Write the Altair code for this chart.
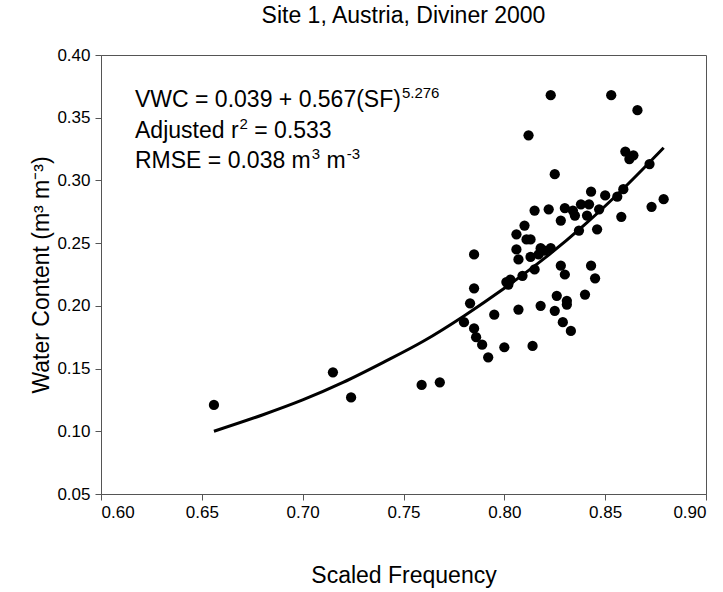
import altair as alt
import pandas as pd

# ---------------- data ----------------
sf = [0.656, 0.715, 0.724, 0.759, 0.768, 0.780, 0.783, 0.785, 0.785, 0.785,
      0.786, 0.789, 0.792, 0.795, 0.800, 0.801, 0.802, 0.803, 0.806, 0.806,
      0.807, 0.807, 0.809, 0.810, 0.811, 0.812, 0.813, 0.813, 0.814, 0.815,
      0.815, 0.817, 0.818, 0.818, 0.820, 0.822, 0.823, 0.823, 0.825, 0.825,
      0.826, 0.828, 0.828, 0.829, 0.830, 0.830, 0.831, 0.831, 0.833, 0.834,
      0.835, 0.837, 0.838, 0.840, 0.841, 0.842, 0.843, 0.843, 0.845, 0.846,
      0.847, 0.850, 0.853, 0.856, 0.858, 0.859, 0.860, 0.862, 0.864, 0.866,
      0.872, 0.873, 0.879]
vwc = [0.121, 0.147, 0.127, 0.137, 0.139, 0.187, 0.202, 0.214, 0.241, 0.182,
       0.175, 0.169, 0.159, 0.193, 0.167, 0.219, 0.217, 0.221, 0.257, 0.245,
       0.237, 0.197, 0.224, 0.264, 0.253, 0.336, 0.253, 0.239, 0.168, 0.276,
       0.229, 0.241, 0.246, 0.200, 0.244, 0.277, 0.368, 0.246, 0.305, 0.196,
       0.208, 0.268, 0.232, 0.187, 0.278, 0.225, 0.204, 0.201, 0.180, 0.276,
       0.272, 0.260, 0.281, 0.209, 0.272, 0.281, 0.291, 0.232, 0.222, 0.261,
       0.277, 0.288, 0.368, 0.287, 0.271, 0.293, 0.323, 0.317, 0.320, 0.356,
       0.313, 0.279, 0.285]

# fitted curve
fit_sf = [0.656, 0.680, 0.700, 0.720, 0.740, 0.760, 0.780, 0.800, 0.820,
          0.840, 0.860, 0.879]
fit_vwc = [0.100, 0.113, 0.125, 0.139, 0.155, 0.172, 0.192, 0.214, 0.238,
           0.265, 0.295, 0.326]

x_ticks = [0.60, 0.65, 0.70, 0.75, 0.80, 0.85, 0.90]
y_ticks = [0.05, 0.10, 0.15, 0.20, 0.25, 0.30, 0.35, 0.40]

title_text = "Site 1, Austria, Diviner 2000"
x_title = "Scaled Frequency"
y_title = "Water Content (m³ m⁻³)"

eq_main = "VWC = 0.039 + 0.567(SF)"
eq_sup = "5.276"
r2_a = "Adjusted r"
r2_sup = "2"
r2_b = "= 0.533"
rmse_a = "RMSE = 0.038 m"
rmse_sup1 = "3"
rmse_b = "m"
rmse_sup2 = "-3"

# ---------------- layout ----------------
FONT = "Liberation Sans"
W, H = 605, 439
ANN = 23
SUP = 15

AW = {" ": .278, "=": .584, "+": .584, ".": .278, "(": .333, ")": .333,
      "-": .333, "0": .556, "1": .556, "2": .556, "3": .556, "4": .556,
      "5": .556, "6": .556, "7": .556, "8": .556, "9": .556,
      "V": .667, "W": .944, "C": .722, "S": .667, "F": .611, "A": .667,
      "R": .722, "M": .833, "E": .667, "d": .556, "j": .222, "u": .556,
      "s": .5, "t": .278, "e": .556, "r": .333, "m": .833}


def tw(s, size):
    return sum(AW.get(c, .556) for c in s) * size


pts = pd.DataFrame({"sf": sf, "vwc": vwc})
fit = pd.DataFrame({"sf": fit_sf, "vwc": fit_vwc})

xs = alt.Scale(domain=[0.6, 0.9], nice=False, zero=False)
ys = alt.Scale(domain=[0.05, 0.4], nice=False, zero=False)

x_enc = alt.X("sf:Q", scale=xs, axis=alt.Axis(
    values=x_ticks, format=".2f", title=x_title, grid=False,
    titlePadding=44, labelPadding=4))
y_enc = alt.Y("vwc:Q", scale=ys, axis=alt.Axis(
    values=y_ticks, format=".2f", title=y_title, grid=False,
    titlePadding=3, labelPadding=5))

points = alt.Chart(pts).mark_circle(size=105, color="black", opacity=1).encode(
    x=x_enc, y=y_enc)
curve = alt.Chart(fit).mark_line(color="black", strokeWidth=3,
                                  interpolate="monotone").encode(
    x=alt.X("sf:Q", scale=xs), y=alt.Y("vwc:Q", scale=ys))


def txt(s, px, py, size):
    return alt.Chart(pd.DataFrame({"t": [s]})).mark_text(
        align="left", baseline="alphabetic", font=FONT, fontSize=size,
        color="black").encode(x=alt.value(px), y=alt.value(py), text="t:N")


x0 = 34
l1, l2, l3 = 52, 83, 113
raise_ = 9
sp = tw(" ", ANN)
r2_end = x0 + tw(r2_a, ANN) + 1 + tw(r2_sup, SUP)
rm_end1 = x0 + tw(rmse_a, ANN) + 1 + tw(rmse_sup1, SUP)
rm_end2 = rm_end1 + sp + tw(rmse_b, ANN)
layers = [
    txt(eq_main, x0, l1, ANN),
    txt(eq_sup, x0 + tw(eq_main, ANN) + 1, l1 - raise_, SUP),
    txt(r2_a, x0, l2, ANN),
    txt(r2_sup, x0 + tw(r2_a, ANN) + 1, l2 - raise_, SUP),
    txt(r2_b, r2_end + sp, l2, ANN),
    txt(rmse_a, x0, l3, ANN),
    txt(rmse_sup1, x0 + tw(rmse_a, ANN) + 1, l3 - raise_, SUP),
    txt(rmse_b, rm_end1 + sp, l3, ANN),
    txt(rmse_sup2, rm_end2 + 1, l3 - raise_, SUP),
]

chart = alt.layer(curve, points, *layers).properties(
    width=W, height=H,
    background="white",
    title=alt.TitleParams(title_text, font=FONT, fontSize=23,
                          fontWeight="normal", anchor="middle", offset=18,
                          color="black"),
    autosize=alt.AutoSizeParams(type="none"),
    padding={"left": 101, "top": 55, "right": 17, "bottom": 98},
).configure_view(
    stroke="#555", strokeWidth=1
).configure_axis(
    labelFont=FONT, titleFont=FONT, labelFontSize=17, titleFontSize=23,
    titleFontWeight="normal", labelColor="black", titleColor="black",
    domainColor="#555", tickColor="#555", tickSize=6, domainWidth=1
)

chart.save("out.html", embed_options={"renderer": "svg", "actions": False})
